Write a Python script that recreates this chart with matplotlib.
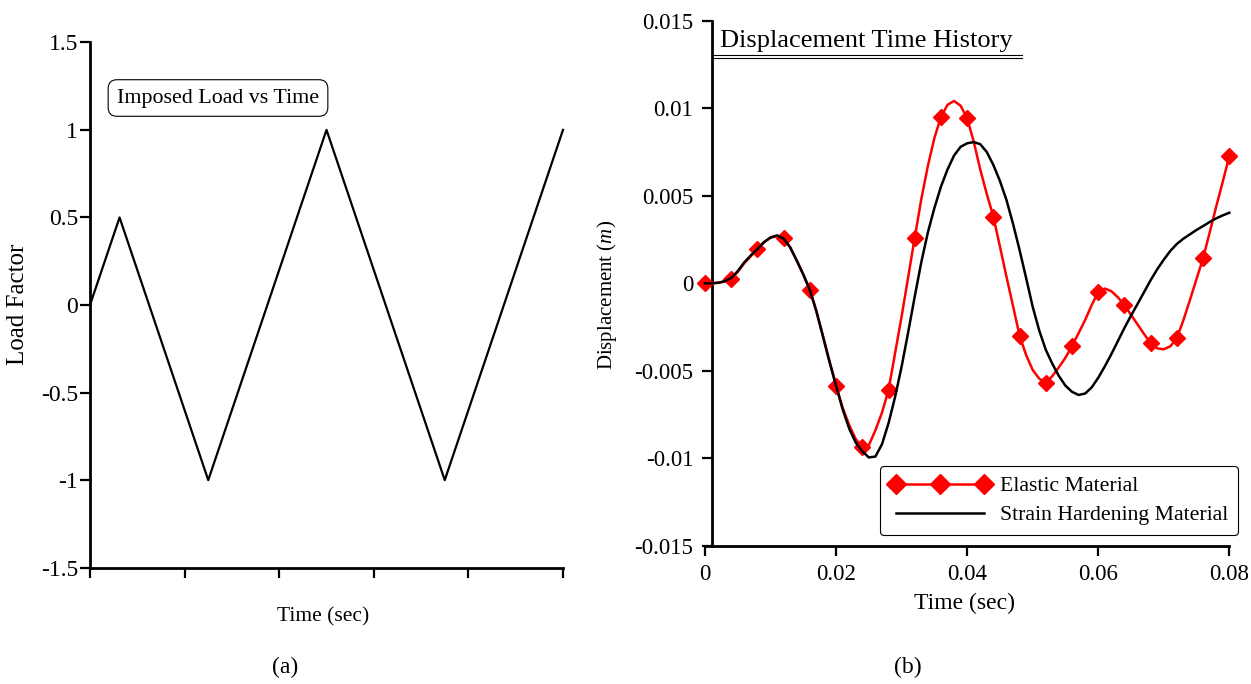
import matplotlib.pyplot as plt
from matplotlib.lines import Line2D
import numpy as np

plt.rcParams['font.family'] = ['Liberation Serif', 'DejaVu Serif']
plt.rcParams['mathtext.fontset'] = 'custom'
plt.rcParams['mathtext.rm'] = 'Liberation Serif'
plt.rcParams['mathtext.it'] = 'Liberation Serif:italic'
plt.rcParams['axes.unicode_minus'] = False

# (a) imposed load history
load_time = [0.0, 0.005, 0.02, 0.04, 0.06, 0.08]
load_factor = [0.0, 0.5, -1.0, 1.0, -1.0, 1.0]

# (b) displacement histories, sampled every 1 ms, values read in mm
time_ms = list(range(81))
elastic_mm = [0.0, 0.0, 0.03, 0.1, 0.27, 0.65, 1.15, 1.55, 1.95, 2.35,
              2.6, 2.7, 2.58, 2.05, 1.3, 0.5, -0.38, -1.6, -3.0, -4.45,
              -5.85, -7.1, -8.1, -8.9, -9.35, -9.25, -8.4, -7.4, -6.1, -4.0,
              -1.9, 0.35, 2.6, 4.8, 6.7, 8.3, 9.5, 10.2, 10.42, 10.15,
              9.43, 8.1, 6.5, 5.1, 3.81, 2.1, 0.38, -1.3, -2.99, -4.1,
              -4.95, -5.45, -5.68, -5.3, -4.8, -4.25, -3.58, -2.85, -2.1, -1.25,
              -0.48, -0.3, -0.45, -0.8, -1.24, -1.8, -2.35, -2.9, -3.43, -3.72,
              -3.77, -3.6, -3.14, -2.1, -0.95, 0.25, 1.43, 2.9, 4.38, 5.8,
              7.27]
hardening_mm = [0.0, 0.0, 0.03, 0.12, 0.3, 0.7, 1.2, 1.6, 1.95, 2.35,
                2.62, 2.74, 2.55, 2.05, 1.3, 0.5, -0.38, -1.6, -3.05, -4.5,
                -5.85, -7.2, -8.3, -9.1, -9.6, -9.95, -9.9, -9.2, -8.0, -6.5,
                -4.76, -2.8, -0.76, 1.2, 2.9, 4.3, 5.52, 6.5, 7.3, 7.8,
                8.0, 8.07, 7.95, 7.5, 6.76, 5.85, 4.76, 3.4, 1.9, 0.3,
                -1.34, -2.7, -3.8, -4.6, -5.3, -5.85, -6.2, -6.38, -6.3, -5.95,
                -5.4, -4.75, -4.05, -3.3, -2.55, -1.85, -1.18, -0.5, 0.18, 0.8,
                1.35, 1.85, 2.25, 2.55, 2.8, 3.05, 3.27, 3.5, 3.71, 3.88,
                4.03]
marker_step = 4  # a diamond every 4 ms on the elastic curve

W, H = 1251, 684
fig = plt.figure(figsize=(W / 100, H / 100), dpi=100)


def px_axes(x0, y0, x1, y1):
    return fig.add_axes([x0 / W, 1 - y1 / H, (x1 - x0) / W, (y1 - y0) / H])


def style_axes(ax):
    for side in ['top', 'right']:
        ax.spines[side].set_visible(False)
    for side in ['left', 'bottom']:
        ax.spines[side].set_linewidth(2.0)
    ax.tick_params(direction='out', length=7.2, width=1.6)


# ---- (a) load factor ----
ax1 = px_axes(90, 42.3, 563, 567.7)
style_axes(ax1)
ax1.plot(load_time, load_factor, color='black', lw=1.6, clip_on=False)
ax1.set_xlim(0, 0.08)
ax1.set_ylim(-1.5, 1.5)
ax1.set_xticks(np.linspace(0, 0.08, 6))
ax1.set_xticklabels([])
ax1.set_yticks([1.5, 1, 0.5, 0, -0.5, -1, -1.5])
ax1.set_yticklabels(['1.5', '1', '0.5', '0', '-0.5', '-1', '-1.5'])
ax1.tick_params(axis='y', labelsize=17, pad=1.5)
fig.text(218 / W, 1 - 98 / H, 'Imposed Load vs Time', fontsize=15.8,
         ha='center', va='center',
         bbox=dict(boxstyle='round,pad=0.4', fc='white', ec='black', lw=0.8))
fig.text(18 / W, 1 - 304 / H, 'Load Factor', fontsize=18, rotation=90,
         ha='center', va='center')
fig.text(323 / W, 1 - 617 / H, 'Time (sec)', fontsize=15.5,
         ha='center', va='center')
fig.text(285 / W, 1 - 667 / H, '(a)', fontsize=17, ha='center', va='center')

# ---- (b) displacement ----
ax2 = px_axes(705, 20.8, 1229.3, 545.8)
style_axes(ax2)
ax2.spines['left'].set_position(('data', 0.001))
t_sec = np.array(time_ms) / 1000
ax2.plot(t_sec, np.array(elastic_mm) / 1000, color='red', lw=1.8,
         marker='D', markersize=8, markevery=marker_step, clip_on=False,
         zorder=3)
ax2.plot(t_sec, np.array(hardening_mm) / 1000, color='black', lw=1.8,
         clip_on=False, zorder=4)
ax2.set_xlim(0, 0.08)
ax2.set_ylim(-0.015, 0.015)
ax2.set_xticks([0, 0.02, 0.04, 0.06, 0.08])
ax2.set_xticklabels(['0', '0.02', '0.04', '0.06', '0.08'])
ax2.set_yticks([0.015, 0.01, 0.005, 0, -0.005, -0.01, -0.015])
ax2.set_yticklabels(['0.015', '0.01', '0.005', '0', '-0.005', '-0.01', '-0.015'])
ax2.tick_params(labelsize=16.5, pad=6)

handles = [Line2D([], [], color='red', lw=1.8, marker='D', markersize=10),
           Line2D([], [], color='black', lw=1.8)]
leg = ax2.legend(handles, ['Elastic Material', 'Strain Hardening Material'],
                 loc='lower right', bbox_to_anchor=(1238 / W, 1 - 535 / H),
                 bbox_transform=fig.transFigure, borderaxespad=0,
                 fontsize=15.7, numpoints=3, handlelength=4.6,
                 handletextpad=0.45, labelspacing=0.4, borderpad=0.45,
                 fancybox=True, framealpha=1, edgecolor='black')
leg.get_frame().set_linewidth(0.8)

fig.text(720 / W, 1 - 47 / H, 'Displacement Time History', fontsize=19,
         ha='left', va='baseline')
for yy in (55, 57.5):
    fig.add_artist(Line2D([711.7 / W, 1021.7 / W], [1 - yy / H, 1 - yy / H],
                          color='black', lw=0.8))
fig.text(607 / W, 1 - 295 / H, 'Displacement ($\\it{m}$)', fontsize=15,
         rotation=90, ha='center', va='center')
fig.text(965 / W, 1 - 603 / H, 'Time (sec)', fontsize=17,
         ha='center', va='center')
fig.text(908 / W, 1 - 667 / H, '(b)', fontsize=17, ha='center', va='center')

fig.savefig('out.png', dpi=100)
